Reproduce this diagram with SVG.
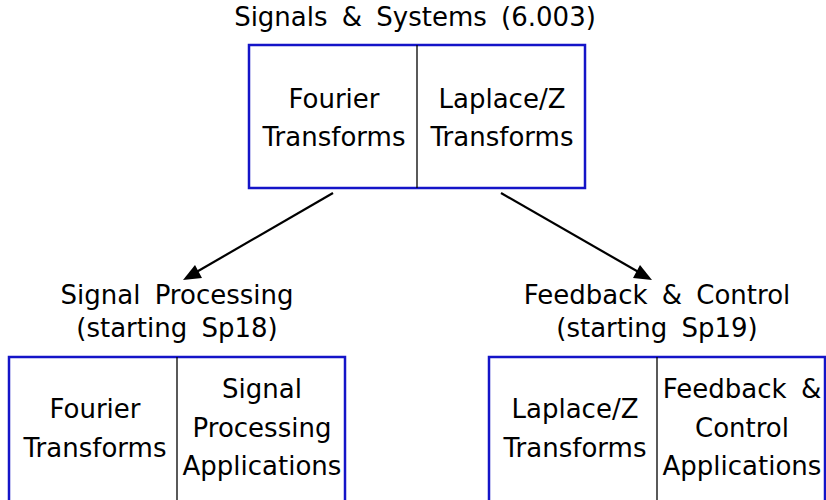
<svg xmlns="http://www.w3.org/2000/svg" width="826" height="500" viewBox="0 0 826 500">
<style>
text{font-family:"DejaVu Sans","Liberation Sans",sans-serif;font-size:26px;fill:#000;text-anchor:middle;word-spacing:6px}
.box{fill:none;stroke:#1414c8;stroke-width:2.5}
.div{stroke:#000;stroke-width:1.3}
.conn{stroke:#000;stroke-width:2.2;fill:none}
</style>
<g id="top">
<text x="415" y="26">Signals &amp; Systems (6.003)</text>
<rect class="box" x="249" y="45" width="336" height="143"/>
<line class="div" x1="417" y1="45" x2="417" y2="188"/>
<text x="334" y="108">Fourier</text>
<text x="334" y="146">Transforms</text>
<text x="502" y="108">Laplace/Z</text>
<text x="502" y="146">Transforms</text>
</g>
<g id="sp">
<text x="177" y="304">Signal Processing</text>
<text x="177" y="337">(starting Sp18)</text>
<rect class="box" x="9" y="357" width="336" height="160"/>
<line class="div" x1="177" y1="357" x2="177" y2="510"/>
<text x="95" y="418">Fourier</text>
<text x="95" y="457">Transforms</text>
<text x="262" y="398">Signal</text>
<text x="262" y="437">Processing</text>
<text x="262" y="475">Applications</text>
</g>
<g id="fc">
<text x="657" y="304">Feedback &amp; Control</text>
<text x="657" y="337">(starting Sp19)</text>
<rect class="box" x="489" y="357" width="336" height="160"/>
<line class="div" x1="657" y1="357" x2="657" y2="510"/>
<text x="575" y="418">Laplace/Z</text>
<text x="575" y="457">Transforms</text>
<text x="742" y="398">Feedback &amp;</text>
<text x="742" y="437">Control</text>
<text x="742" y="475">Applications</text>
</g>
<g id="connectors">
<path class="conn" d="M333,193 L193,274"/>
<path class="conn" d="M501,193 L642,274"/>
<polygon points="183,280 195,265 202,278" fill="#000"/>
<polygon points="652,280 633,278 640,265" fill="#000"/>
</g>
</svg>
